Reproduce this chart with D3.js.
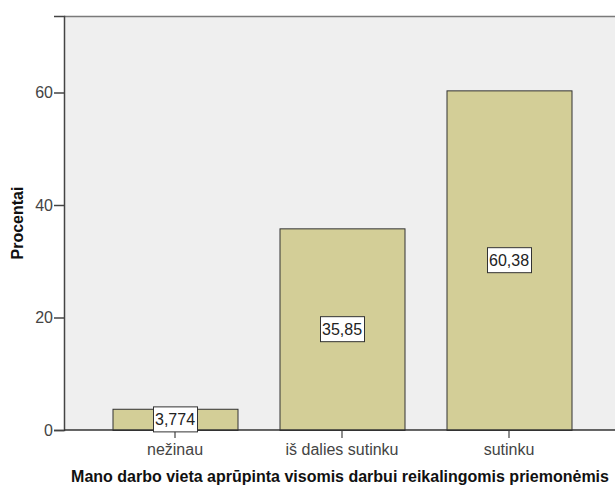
<!DOCTYPE html>
<html><head><meta charset="utf-8">
<script src="https://cdn.jsdelivr.net/npm/d3@7"></script>
<style>body{margin:0;background:#fff}svg{display:block}text{font-family:"Liberation Sans",Arial,sans-serif}</style>
</head><body>
<script>
const categories = ["nežinau", "iš dalies sutinku", "sutinku"];
const values = [3.774, 35.85, 60.38];
const valueLabels = ["3,774", "35,85", "60,38"];
const yTicks = [0, 20, 40, 60];
const xTitle = "Mano darbo vieta aprūpinta visomis darbui reikalingomis priemonėmis";
const yTitle = "Procentai";

const W = 615, H = 489;
const mLeft = 64, mTop = 16, mBottom = 430, mRight = 620;
const FS = 16;
const svg = d3.select("body").append("svg").attr("width", W).attr("height", H);

const y = d3.scaleLinear().domain([0, 73.6]).range([mBottom, mTop]);
const x = d3.scaleBand().domain(categories).range([mLeft + 27.5, mRight - 27.5]).paddingInner(0.25).paddingOuter(0.125);

svg.append("rect").attr("x", mLeft).attr("y", mTop).attr("width", mRight - mLeft).attr("height", mBottom - mTop)
  .attr("fill", "#EFEFEF");
svg.append("line").attr("x1", mLeft).attr("x2", mRight).attr("y1", mTop + 0.5).attr("y2", mTop + 0.5)
  .attr("stroke", "#7a7a7a").attr("stroke-width", 1.5);

const bw = 125;
svg.selectAll("rect.bar").data(values).enter().append("rect").attr("class", "bar")
  .attr("x", (d, i) => x(categories[i]) + x.bandwidth() / 2 - bw / 2 + 0.5)
  .attr("y", d => y(d) + 0.5)
  .attr("width", bw)
  .attr("height", d => y(0) - y(d))
  .attr("fill", "#D3CE97").attr("stroke", "#333").attr("stroke-width", 1);

// y axis
const yAxis = svg.append("g").attr("transform", `translate(${mLeft},0)`)
  .call(d3.axisLeft(y).tickValues(yTicks).tickSize(10).tickPadding(1));
yAxis.select(".domain").attr("stroke", "#444").attr("stroke-width", 1.5);
yAxis.selectAll(".tick line").attr("stroke", "#444").attr("stroke-width", 1.5);
yAxis.selectAll(".tick text").attr("font-size", FS).attr("fill", "#444").attr("font-family", "Liberation Sans, Arial, sans-serif");

// x axis
const xAxis = svg.append("g").attr("transform", `translate(0,${mBottom})`)
  .call(d3.axisBottom(x).tickSize(8).tickPadding(6));
xAxis.select(".domain").remove();
svg.append("line").attr("x1", mLeft).attr("x2", mRight).attr("y1", mBottom).attr("y2", mBottom)
  .attr("stroke", "#333").attr("stroke-width", 1.5);
xAxis.selectAll(".tick line").attr("stroke", "#444").attr("stroke-width", 1.2);
xAxis.selectAll(".tick text").attr("font-size", FS).attr("fill", "#444").attr("font-family", "Liberation Sans, Arial, sans-serif");

// value labels
const lab = svg.selectAll("g.lab").data(values).enter().append("g").attr("class", "lab")
  .attr("transform", (d, i) => `translate(${x(categories[i]) + x.bandwidth() / 2},${(y(d) + y(0)) / 2})`);
lab.each(function(d, i) {
  const g = d3.select(this);
  const t = g.append("text").text(valueLabels[i]).attr("text-anchor", "middle").attr("dy", "0.36em")
    .attr("font-size", FS).attr("fill", "#222");
  const bb = t.node().getBBox();
  g.insert("rect", "text").attr("x", Math.round(bb.x - 2) + 0.5).attr("y", -12.5).attr("width", Math.round(bb.width + 4)).attr("height", 25)
    .attr("fill", "#fff").attr("stroke", "#333").attr("stroke-width", 1);
});

svg.append("text").attr("x", 340).attr("y", 482).attr("text-anchor", "middle")
  .attr("font-size", FS).attr("font-weight", "bold").attr("fill", "#111").text(xTitle);
svg.append("text").attr("transform", `translate(23,${(mTop + mBottom) / 2}) rotate(-90)`).attr("text-anchor", "middle")
  .attr("font-size", FS).attr("font-weight", "bold").attr("fill", "#111").text(yTitle);
</script>
</body></html>
